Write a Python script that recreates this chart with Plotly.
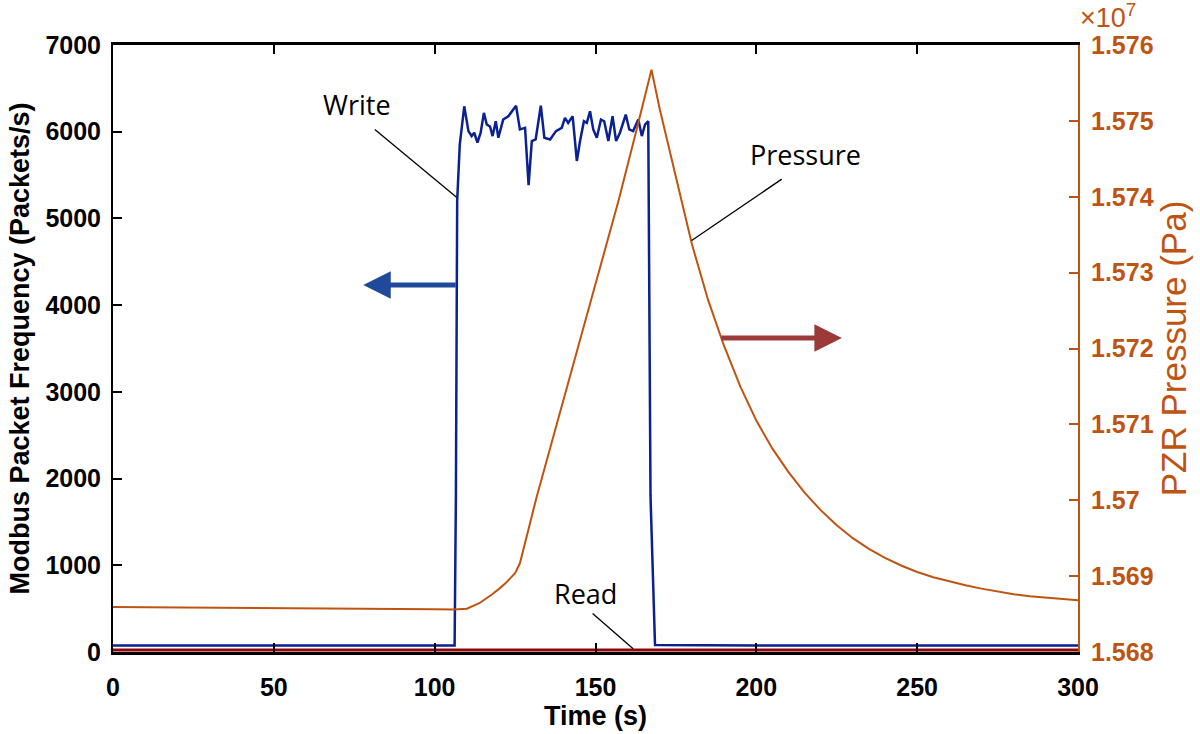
import plotly.graph_objects as go

# ---------------- data ----------------
# Write packets (Packets/s)
write_t = [0, 15, 30, 45, 60, 75, 90, 104, 106.2, 106.6, 107.0, 107.8,
           109.2, 110.5, 111.5, 112.3, 113.3, 114.3, 115.3, 116.2, 117.2, 118.0,
           119.0, 119.8, 121.3, 122.9, 125.3, 126.5, 128.1, 129.2, 130.2, 131.4,
           133.0, 134.1, 135.9, 137.7, 139.5, 140.5, 141.5, 142.9, 144.2, 145.2,
           146.4, 147.3, 148.3, 149.3, 150.4, 151.7, 152.7, 154.0, 155.3, 156.4,
           157.6, 159.4, 160.5, 161.7, 163.3, 164.4, 165.4, 166.4, 166.8, 167.1,
           168.5, 180, 200, 220, 240, 260, 280, 300]
write_v = [75, 74, 76, 74, 75, 76, 74, 75, 75, 1800, 5200, 5850,
           6293, 6007, 5950, 5988, 5873, 5988, 6217, 6083, 6060, 5950,
           6121, 5931, 6140, 6178, 6300, 6026, 6045, 5384, 5892, 5911,
           6300, 5931, 5911, 6007, 6045, 6160, 6102, 6178, 5663, 5892,
           6121, 6102, 6236, 6026, 5931, 6140, 6121, 5892, 6178, 5892,
           5988, 6198, 6026, 6007, 6140, 5950, 6083, 6121, 4000, 1800,
           80, 76, 75, 74, 76, 75, 74, 75]

# Read packets (Packets/s)
read_t = [0, 50, 100, 150, 200, 250, 300]
read_v = [22, 22, 22, 22, 22, 22, 22]

# PZR pressure (x10^7 Pa)
pres_t = [0, 50, 100, 106, 110, 114, 116, 118, 120.3, 122, 125, 126.5, 131.7,
          140, 150, 157.3, 163, 167.4, 170, 175, 180, 185, 190, 195, 200, 205,
          210, 215, 220, 225, 230, 235, 240, 245, 250, 255, 260, 265, 270, 275,
          280, 285, 290, 295, 300]
pres_v = [1.568593, 1.568583, 1.568565, 1.568560, 1.568570, 1.568646, 1.568700,
          1.568765, 1.568842, 1.568905, 1.569038, 1.569169, 1.570043,
          1.571313, 1.572848, 1.573970, 1.574924, 1.575673, 1.575150, 1.574260,
          1.573370, 1.572640, 1.572030, 1.571500, 1.571050, 1.570680, 1.570370,
          1.570100, 1.569870, 1.569670, 1.569500, 1.569360, 1.569240, 1.569140,
          1.569055, 1.568985, 1.568930, 1.568880, 1.568835, 1.568795, 1.568762,
          1.568735, 1.568715, 1.568697, 1.568681]

x_ticks = [0, 50, 100, 150, 200, 250, 300]
y_left_ticks = [0, 1000, 2000, 3000, 4000, 5000, 6000, 7000]
y_right_ticks = [1.568, 1.569, 1.570, 1.571, 1.572, 1.573, 1.574, 1.575, 1.576]
y_right_text = ["1.568", "1.569", "1.57", "1.571", "1.572", "1.573", "1.574", "1.575", "1.576"]

# ---------------- style ----------------
BLUE = "#0B2191"
DARKRED = "#8E0A0A"
ORANGE = "#BF5412"
AX_FONT = dict(family="Liberation Sans, Arial", size=25, color="black", weight="bold")
TITLE_FONT = dict(family="Liberation Sans, Arial", size=27, color="black", weight="bold")
NOTE_FONT = dict(family="Open Sans", size=27, color="black")

fig = go.Figure()
fig.add_trace(go.Scatter(x=read_t, y=read_v, mode="lines", name="Read",
                         line=dict(color=DARKRED, width=3), yaxis="y"))
fig.add_trace(go.Scatter(x=write_t, y=write_v, mode="lines", name="Write",
                         line=dict(color=BLUE, width=2.5), yaxis="y"))
fig.add_trace(go.Scatter(x=pres_t, y=pres_v, mode="lines", name="Pressure",
                         line=dict(color=ORANGE, width=2), yaxis="y2"))

fig.update_layout(
    width=1200, height=734, autosize=False,
    margin=dict(l=113, r=122, t=45, b=78),
    paper_bgcolor="white", plot_bgcolor="white",
    showlegend=False,
    xaxis=dict(range=[0, 300], tickvals=x_ticks, ticks="inside", ticklen=9, tickwidth=2,
               tickcolor="black", showline=True, linecolor="black", linewidth=3,
               mirror="ticks", showgrid=False, zeroline=False, tickfont=AX_FONT,
               ticklabelstandoff=11,
               title=dict(text="Time (s)", font=TITLE_FONT, standoff=2)),
    yaxis=dict(range=[0, 7000], tickvals=y_left_ticks, ticks="inside", ticklen=9, tickwidth=2,
               tickcolor="black", showline=True, linecolor="black", linewidth=2,
               showgrid=False, zeroline=False, tickfont=AX_FONT, ticklabelstandoff=5,
               title=dict(text="Modbus Packet Frequency (Packets/s)", font=TITLE_FONT, standoff=8)),
    yaxis2=dict(range=[1.568, 1.576], tickvals=y_right_ticks, ticktext=y_right_text,
                overlaying="y", side="right", ticks="inside", ticklen=9, tickwidth=2,
                tickcolor=ORANGE, showline=True, linecolor=ORANGE, linewidth=2,
                showgrid=False, zeroline=False,
                tickfont=dict(family="Liberation Sans, Arial", size=25, color=ORANGE, weight="bold"),
                ticklabelstandoff=6,
                title=dict(text="PZR Pressure (Pa)",
                           font=dict(family="Liberation Sans, Arial", size=35, color=ORANGE),
                           standoff=6)),
)

# exponent label
fig.add_annotation(text="×10<sup>7</sup>", xref="paper", yref="paper", x=1.0, y=1.017,
                   xanchor="left", yanchor="bottom", showarrow=False,
                   font=dict(family="Liberation Sans, Arial", size=27, color=ORANGE))

# text labels
fig.add_annotation(text="Write", x=75.8, y=6312, xref="x", yref="y", showarrow=False, font=NOTE_FONT)
fig.add_annotation(text="Pressure", x=215.4, y=5739, xref="x", yref="y", showarrow=False, font=NOTE_FONT)
fig.add_annotation(text="Read", x=147.0, y=676, xref="x", yref="y", showarrow=False, font=NOTE_FONT)

# leader lines
fig.add_shape(type="line", xref="x", yref="y", x0=81.4, y0=6026, x1=106.8, y1=5243,
              line=dict(color="black", width=1.3))
fig.add_shape(type="line", xref="x", yref="y", x0=207.9, y0=5453, x1=179.9, y1=4746,
              line=dict(color="black", width=1.3))
fig.add_shape(type="line", xref="x", yref="y", x0=149.1, y0=443, x1=161.7, y1=38,
              line=dict(color="black", width=1.3))

# axis-indicator arrows
fig.add_annotation(x=77.8, y=4231, xref="x", yref="y", ax=94, ay=0, axref="pixel", ayref="pixel",
                   text="", showarrow=True, arrowhead=2, arrowsize=1.1, arrowwidth=5,
                   arrowcolor="#1F4A9C", standoff=0)
fig.add_annotation(x=226.6, y=3620, xref="x", yref="y", ax=-122, ay=0, axref="pixel", ayref="pixel",
                   text="", showarrow=True, arrowhead=2, arrowsize=1.1, arrowwidth=5,
                   arrowcolor="#9B3A38", standoff=0)

fig.write_html("out.html")
